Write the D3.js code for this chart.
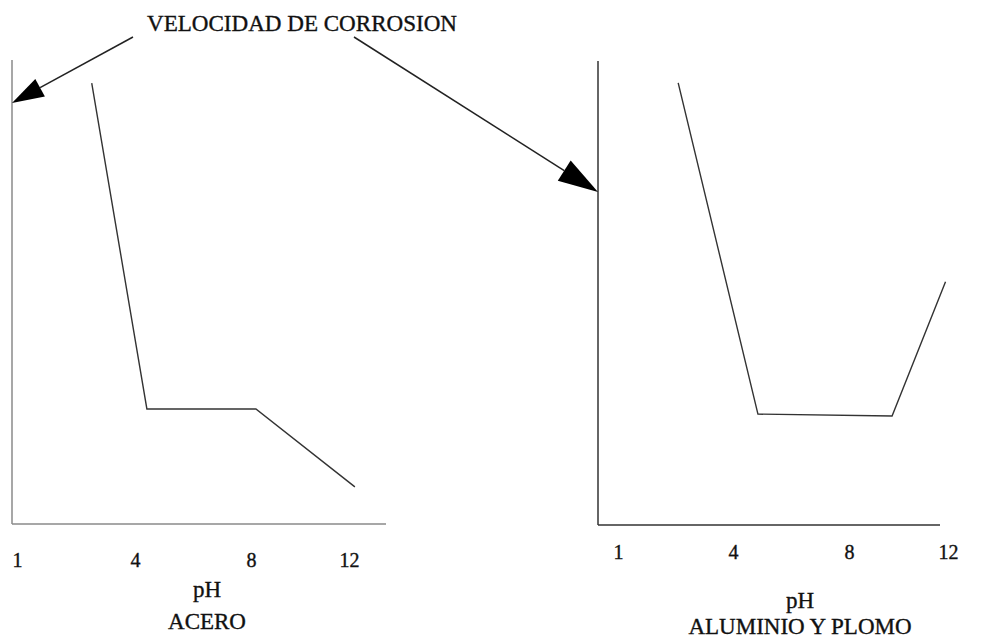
<!DOCTYPE html>
<html><head><meta charset="utf-8">
<script src="https://cdn.jsdelivr.net/npm/d3@7"></script>
<style>body{margin:0;background:#fff}svg{display:block}text{font-family:"Liberation Serif","Times New Roman",serif;fill:#111;stroke:#111;stroke-width:0.35px}</style>
</head><body><svg id="c" width="987" height="641"></svg>
<script>
// ---- data ----
const tickLabels = [1, 4, 8, 12];
const aceroPH   = [2.9, 4.41, 8.2, 12.24];
const aceroRate = [95.0, 24.8, 24.8, 8.0];
const alPbPH    = [2.57, 4.86, 9.74, 11.9];
const alPbRate  = [95.3, 23.9, 23.5, 52.4];
const title = "VELOCIDAD DE CORROSION";
const xTitle = "pH";
const panelNames = ["ACERO", "ALUMINIO Y PLOMO"];

const svg = d3.select("#c");

const panels = [
  {ph: aceroPH, rate: aceroRate, name: panelNames[0],
   tickPx: [17, 135, 251, 349], x0: 12, x1: 386, yTop: 60, yBot: 524,
   axisColor: "#8a8a8a", tickBase: 567, phBase: 597, nameBase: 629, nameX: 207},
  {ph: alPbPH, rate: alPbRate, name: panelNames[1],
   tickPx: [618, 733, 849, 948], x0: 598, x1: 940, yTop: 61, yBot: 525,
   axisColor: "#333", tickBase: 559, phBase: 608, nameBase: 634, nameX: 800}
];

panels.forEach(p => {
  const x = d3.scaleLinear().domain(tickLabels).range(p.tickPx);
  const y = d3.scaleLinear().domain([0, 100]).range([p.yBot, p.yTop]);
  const g = svg.append("g");
  g.append("line").attr("x1", p.x0).attr("x2", p.x0).attr("y1", p.yTop).attr("y2", p.yBot)
    .attr("stroke", p.axisColor).attr("stroke-width", 1.5);
  g.append("line").attr("x1", p.x0).attr("x2", p.x1).attr("y1", p.yBot).attr("y2", p.yBot)
    .attr("stroke", p.axisColor).attr("stroke-width", 1.5);
  const ax = g.append("g").attr("transform", `translate(0,${p.tickBase})`)
    .call(d3.axisBottom(x).tickValues(tickLabels).tickSize(0).tickPadding(0).tickFormat(d3.format("d")));
  ax.select(".domain").remove();
  ax.selectAll("text").attr("dy", 0).attr("y", 0)
    .style("font-family", '"Liberation Serif", serif').style("font-size", "20px")
    .attr("fill", "#111").attr("stroke", "#111").attr("stroke-width", 0.35);
  const pts = p.ph.map((v, i) => [x(v), y(p.rate[i])]);
  g.append("path").attr("d", d3.line()(pts)).attr("fill", "none")
    .attr("stroke", "#333").attr("stroke-width", 1.4).attr("stroke-linejoin", "miter");
  g.append("text").attr("x", p.nameX).attr("y", p.phBase).attr("text-anchor", "middle")
    .style("font-size", "23px").text(xTitle);
  g.append("text").attr("x", p.nameX).attr("y", p.nameBase).attr("text-anchor", "middle")
    .style("font-size", "23px").text(p.name);
});

svg.append("text").attr("x", 147).attr("y", 31).style("font-size", "23px")
  .attr("textLength", 310).attr("lengthAdjust", "spacingAndGlyphs").text(title);

function arrow(sx, sy, tx, ty, len, halfW) {
  const a = Math.atan2(ty - sy, tx - sx);
  const bx = tx - len * Math.cos(a), by = ty - len * Math.sin(a);
  svg.append("line").attr("x1", sx).attr("y1", sy).attr("x2", bx).attr("y2", by)
    .attr("stroke", "#222").attr("stroke-width", 1.5);
  const px = -Math.sin(a) * halfW, py = Math.cos(a) * halfW;
  svg.append("path").attr("d", d3.line()([[tx, ty], [bx + px, by + py], [bx - px, by - py]]) + "Z")
    .attr("fill", "#000");
}
arrow(133, 37, 12, 103, 32, 10);
arrow(354, 37, 598, 192, 40, 12);
</script></body></html>
